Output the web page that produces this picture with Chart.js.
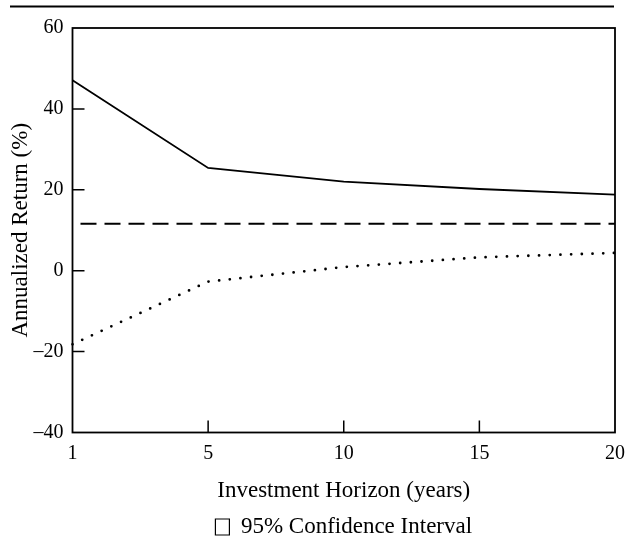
<!DOCTYPE html>
<html>
<head>
<meta charset="utf-8">
<script src="https://cdn.jsdelivr.net/npm/chart.js@4/dist/chart.umd.min.js"></script>
<style>
    html, body { margin: 0; padding: 0; background: #ffffff; }
    #wrap { width: 625px; height: 541px; }
</style>
</head>
<body>
<div id="wrap"><canvas id="horizonChart" width="625" height="541"></canvas></div>
<script>
// ===== DATA =====
const horizons = ['1', '5', '10', '15', '20'];
const upperBound = [47.1, 25.4, 22.0, 20.2, 18.8];
const meanReturn = [11.6, 11.6, 11.6, 11.6, 11.6];
const lowerBound = [-18.2, -2.7, 0.9, 3.3, 4.4];
const yTicks = [-40, -20, 0, 20, 40, 60];

const SERIF = "'Liberation Serif', 'Times New Roman', serif";
const INK = '#000000';

// ===== PLUGINS =====
// thin rule above the figure, as in the printed page
const topRule = {
    id: 'topRule',
    beforeDraw(chart) {
        const ctx = chart.ctx;
        ctx.save();
        ctx.fillStyle = INK;
        ctx.fillRect(10, 5.5, 604, 2);
        ctx.restore();
    }
};

// box round the plot + short ticks pointing inwards
const frameAndTicks = {
    id: 'frameAndTicks',
    afterDatasetsDraw(chart) {
        const { ctx, chartArea: a, scales } = chart;
        ctx.save();
        ctx.strokeStyle = INK;
        ctx.lineWidth = 1.8;
        ctx.strokeRect(a.left, a.top, a.right - a.left, a.bottom - a.top);

        ctx.lineWidth = 1.5;
        ctx.beginPath();
        scales.y.ticks.forEach(t => {
            if (t.value <= scales.y.min || t.value >= scales.y.max) return;
            const py = scales.y.getPixelForValue(t.value);
            ctx.moveTo(a.left, py);
            ctx.lineTo(a.left + 12, py);
        });
        scales.x.ticks.forEach((t, i) => {
            if (i === 0 || i === scales.x.ticks.length - 1) return;
            const px = scales.x.getPixelForTick(i);
            ctx.moveTo(px, a.bottom);
            ctx.lineTo(px, a.bottom - 12);
        });
        ctx.stroke();
        ctx.restore();
    }
};

// ===== CHART =====
const ctx = document.getElementById('horizonChart').getContext('2d');

new Chart(ctx, {
    type: 'line',
    data: {
        labels: horizons,
        datasets: [
            {
                label: 'Upper bound',
                data: upperBound,
                borderColor: INK,
                borderWidth: 1.8,
                pointRadius: 0,
                tension: 0,
                fill: false
            },
            {
                label: 'Mean',
                data: meanReturn,
                borderColor: INK,
                borderWidth: 2,
                borderDash: [16, 8],
                borderDashOffset: 16,
                pointRadius: 0,
                tension: 0,
                fill: false
            },
            {
                label: 'Lower bound',
                data: lowerBound,
                borderColor: INK,
                borderWidth: 2.8,
                borderDash: [0, 10.7],
                borderCapStyle: 'round',
                pointRadius: 0,
                tension: 0,
                fill: false
            }
        ]
    },
    options: {
        responsive: false,
        animation: false,
        layout: {
            // legend adds 10px of its own below the row, pull it down a bit
            padding: { top: 28, right: 10, bottom: -7.5, left: 0 }
        },
        plugins: {
            legend: {
                position: 'bottom',
                fullSize: false,
                onClick: null,
                labels: {
                    color: INK,
                    font: { family: SERIF, size: 23 },
                    boxWidth: 14,
                    boxHeight: 16,
                    padding: 3,
                    generateLabels: () => [{
                        text: '95% Confidence Interval',
                        fillStyle: '#ffffff',
                        strokeStyle: INK,
                        lineWidth: 1.2,
                        hidden: false,
                        datasetIndex: 0
                    }]
                }
            },
            tooltip: { enabled: false }
        },
        scales: {
            x: {
                type: 'category',
                offset: false,
                grid: { display: false, drawTicks: false },
                border: { display: false },
                ticks: {
                    color: INK,
                    font: { family: SERIF, size: 20 },
                    padding: 9,
                    maxRotation: 0,
                    autoSkip: false
                },
                title: {
                    display: true,
                    text: 'Investment Horizon (years)',
                    color: INK,
                    font: { family: SERIF, size: 23 },
                    padding: { top: 8, bottom: 8 }
                },
                afterFit(scale) {
                    scale.height = 80;
                    scale.paddingLeft = 0;
                    scale.paddingRight = 0;
                }
            },
            y: {
                min: -40,
                max: 60,
                grid: { display: false, drawTicks: false },
                border: { display: false },
                afterBuildTicks(scale) {
                    scale.ticks = yTicks.map(v => ({ value: v }));
                },
                ticks: {
                    color: INK,
                    font: { family: SERIF, size: 20 },
                    padding: 9,
                    callback: v => v < 0 ? '\u2013' + Math.abs(v) : String(v)
                },
                title: {
                    display: true,
                    text: 'Annualized Return (%)',
                    color: INK,
                    font: { family: SERIF, size: 23 },
                    padding: { top: 7, bottom: 7 }
                },
                afterFit(scale) { scale.width = 72.5; }
            }
        }
    },
    plugins: [topRule, frameAndTicks]
});
</script>
</body>
</html>
